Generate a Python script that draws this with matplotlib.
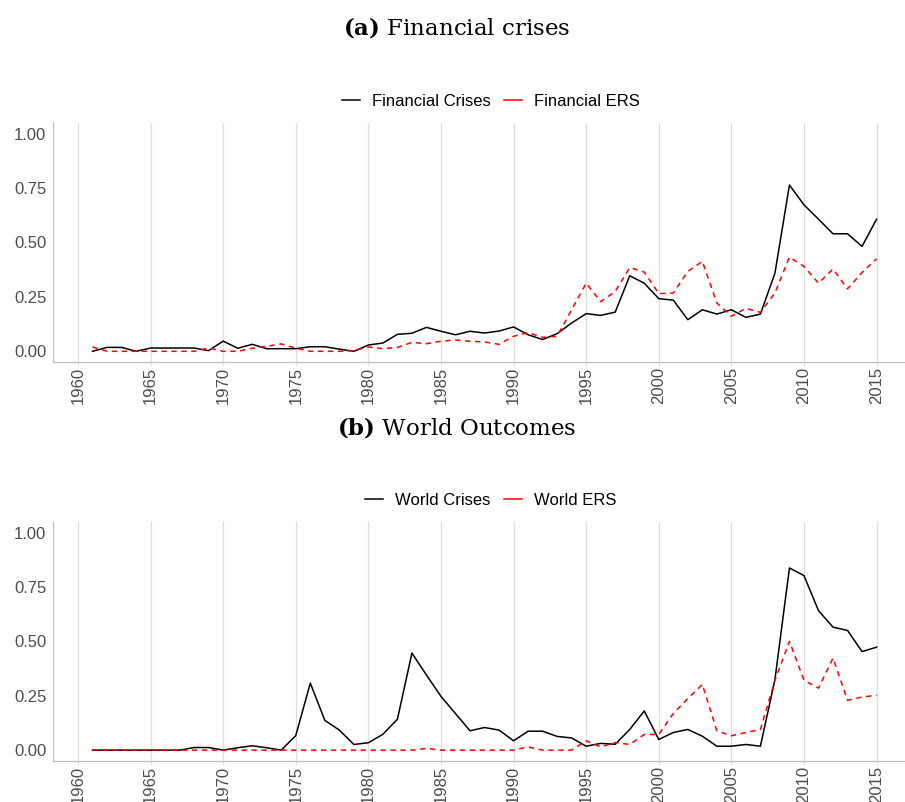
#!/usr/bin/env python3

import matplotlib
matplotlib.use('Agg')
import matplotlib.pyplot as plt
from matplotlib.lines import Line2D

# Share of countries by year
years = list(range(1961, 2016))

fin_crises = [0.000, 0.018, 0.018, 0.000, 0.015, 0.015, 0.015, 0.015, 0.003, 0.047,
              0.014, 0.032, 0.012, 0.012, 0.012, 0.021, 0.021, 0.010, 0.000, 0.029,
              0.038, 0.078, 0.083, 0.110, 0.092, 0.076, 0.092, 0.084, 0.093, 0.112,
              0.076, 0.054, 0.081, 0.130, 0.173, 0.165, 0.180, 0.347, 0.313, 0.242,
              0.235, 0.145, 0.191, 0.171, 0.191, 0.156, 0.171, 0.359, 0.764, 0.673,
              0.607, 0.540, 0.540, 0.482, 0.607]
fin_ers = [0.020, 0.000, 0.000, 0.000, 0.000, 0.000, 0.000, 0.000, 0.015, 0.000,
           0.000, 0.014, 0.023, 0.034, 0.014, 0.000, 0.000, 0.000, 0.003, 0.020,
           0.012, 0.018, 0.041, 0.035, 0.046, 0.052, 0.046, 0.043, 0.032, 0.069,
           0.086, 0.064, 0.069, 0.191, 0.313, 0.228, 0.275, 0.385, 0.364, 0.265,
           0.268, 0.367, 0.413, 0.222, 0.161, 0.197, 0.179, 0.268, 0.433, 0.390,
           0.313, 0.378, 0.287, 0.362, 0.425]

world_crises = [0.000, 0.000, 0.000, 0.000, 0.000, 0.000, 0.000, 0.012, 0.012, 0.000,
                0.011, 0.020, 0.011, 0.000, 0.067, 0.308, 0.137, 0.092, 0.026, 0.034,
                0.073, 0.142, 0.446, 0.345, 0.247, 0.168, 0.089, 0.104, 0.092, 0.043,
                0.087, 0.087, 0.063, 0.056, 0.018, 0.031, 0.027, 0.095, 0.180, 0.049,
                0.081, 0.095, 0.064, 0.018, 0.018, 0.026, 0.018, 0.324, 0.837, 0.802,
                0.641, 0.565, 0.550, 0.453, 0.473]
world_ers = [0.000, 0.000, 0.000, 0.000, 0.000, 0.000, 0.000, 0.000, 0.000, 0.000,
             0.000, 0.000, 0.000, 0.000, 0.000, 0.000, 0.000, 0.000, 0.000, 0.000,
             0.000, 0.000, 0.000, 0.008, 0.000, 0.000, 0.000, 0.000, 0.000, 0.000,
             0.015, 0.000, 0.000, 0.000, 0.043, 0.015, 0.035, 0.026, 0.072, 0.072,
             0.168, 0.237, 0.302, 0.089, 0.066, 0.081, 0.095, 0.321, 0.500, 0.321,
             0.285, 0.423, 0.229, 0.244, 0.252]

x_ticks = list(range(1960, 2016, 5))
y_ticks = [0.0, 0.25, 0.5, 0.75, 1.0]

plt.rcParams['font.family'] = 'Liberation Sans'
plt.rcParams['mathtext.fontset'] = 'dejavuserif'

grid_col = '#dedede'
spine_col = '#bebebe'
text_col = '#4d4d4d'


def draw_panel(ax, crises, ers, crises_name, ers_name):
    ax.plot(years, crises, color='black', lw=1.1)
    ax.plot(years, ers, color='red', lw=1.1, dashes=(3.5, 3))

    ax.set_xlim(1958.3, 2017.7)
    ax.set_ylim(-0.05, 1.05)
    ax.set_xticks(x_ticks)
    ax.set_yticks(y_ticks)
    ax.set_yticklabels(['{:.2f}'.format(v) for v in y_ticks])
    ax.tick_params(axis='x', rotation=90, length=3, color=grid_col,
                   labelsize=12, labelcolor=text_col, pad=0.5)
    ax.tick_params(axis='y', length=0, labelsize=12, labelcolor=text_col, pad=5)

    ax.grid(axis='x', color=grid_col, lw=0.9)
    ax.set_axisbelow(True)
    for side in ['top', 'right']:
        ax.spines[side].set_visible(False)
    for side in ['left', 'bottom']:
        ax.spines[side].set_color(spine_col)
        ax.spines[side].set_linewidth(0.9)

    handles = [Line2D([], [], color='black', lw=1.1),
               Line2D([], [], color='red', lw=1.1)]
    ax.legend(handles, [crises_name, ers_name], loc='center',
              bbox_to_anchor=(0.507, 1.09), ncol=2, frameon=False,
              fontsize=12, handlelength=1.1, handletextpad=0.7,
              columnspacing=0.8)


fig = plt.figure(figsize=(9.05, 8.02), dpi=100)
ax1 = fig.add_axes([0.0589, 0.5484, 0.953, 0.2985])
ax2 = fig.add_axes([0.0589, 0.0511, 0.953, 0.2985])

draw_panel(ax1, fin_crises, fin_ers, 'Financial Crises', 'Financial ERS')
draw_panel(ax2, world_crises, world_ers, 'World Crises', 'World ERS')

fig.text(0.505, 0.966, r'$\mathbf{(a)}$ Financial crises', ha='center', va='center',
         family='DejaVu Serif', fontsize=16.5)
fig.text(0.505, 0.467, r'$\mathbf{(b)}$ World Outcomes', ha='center', va='center',
         family='DejaVu Serif', fontsize=16.5)

fig.savefig('out.png', dpi=100)
